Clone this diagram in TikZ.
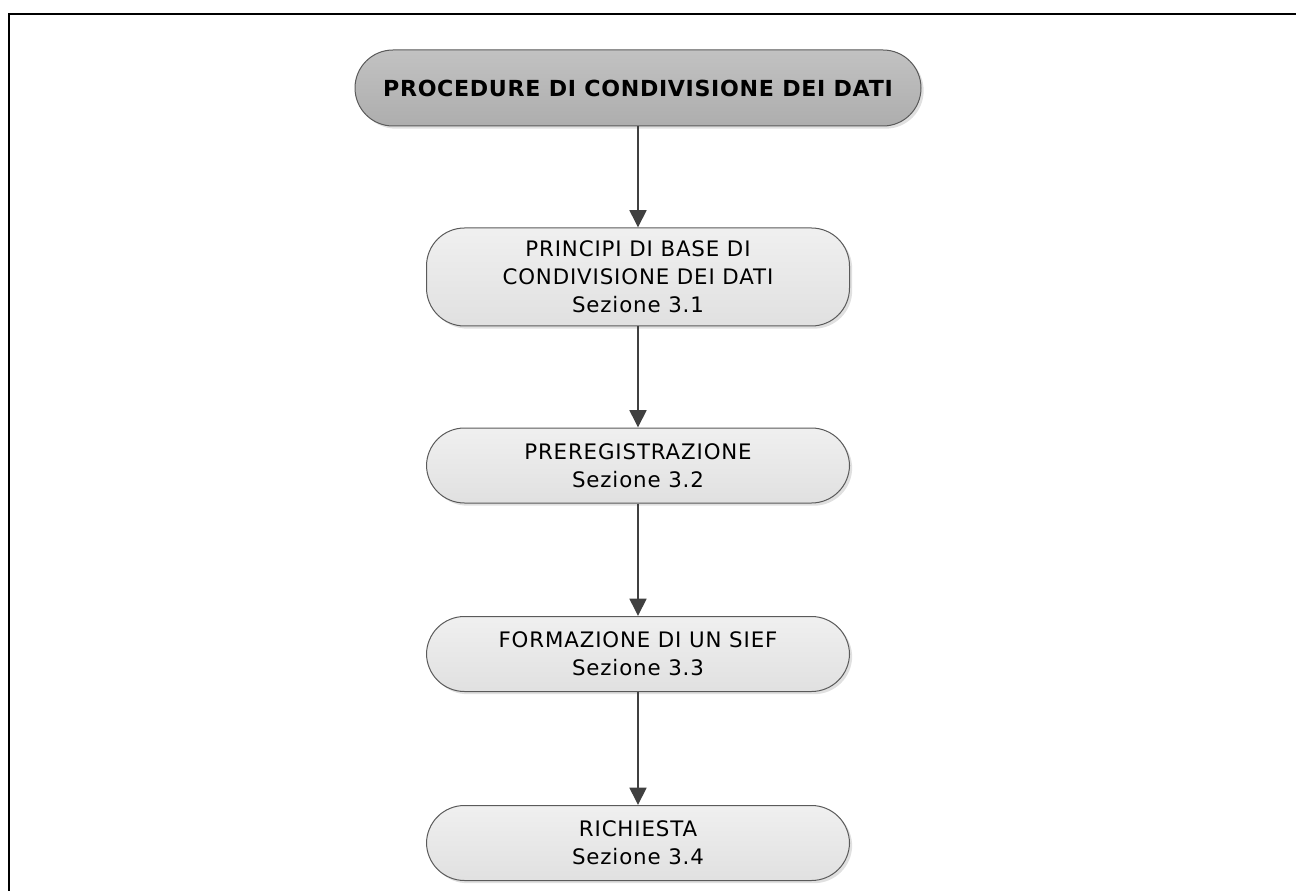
\documentclass[tikz,border=0pt]{standalone}
\usepackage{fontspec}
\setmainfont{DejaVu Sans}[LetterSpace=4]
\newfontfamily\titlefont{DejaVu Sans}[LetterSpace=3]
\usetikzlibrary{arrows.meta,shadows}
\definecolor{edgegray}{HTML}{5A5A5A}
\definecolor{arrowgray}{HTML}{404040}
\tikzset{
  stepbox/.style={draw=edgegray, line width=0.75pt, rounded corners=28.5pt,
    minimum width=317.25pt, minimum height=56.25pt, align=center,
    top color=white!94!black, bottom color=white!88!black,
    drop shadow={shadow xshift=2pt, shadow yshift=-2pt, fill=black, opacity=0.12},
    font={\fontsize{16}{21}\selectfont}, inner sep=0pt},
  titlebox/.style={stepbox, minimum width=424.5pt, minimum height=57pt,
    top color=white!76!black, bottom color=white!68!black,
    font={\titlefont\bfseries\fontsize{16.6}{21}\selectfont}},
  flow/.style={draw=arrowgray, line width=2pt, -{Triangle[length=13pt,width=12.5pt]}}
}
\begin{document}
\begin{tikzpicture}[x=0.75pt,y=-0.75pt]
\useasboundingbox (0,0) rectangle (1296,891);
\begin{scope}
\clip (0,0) rectangle (1296,891);
\draw[line width=1.6pt] (9,1000) -- (9,14) -- (1400,14);
\end{scope}
\node[titlebox] (t) at (638,88) {PROCEDURE DI CONDIVISIONE DEI DATI};
\node[stepbox, minimum height=73.5pt] (a) at (638,277) {PRINCIPI DI BASE DI\\CONDIVISIONE DEI DATI\\Sezione 3.1};
\node[stepbox] (b) at (638,465.5) {PREREGISTRAZIONE\\Sezione 3.2};
\node[stepbox] (c) at (638,654) {FORMAZIONE DI UN SIEF\\Sezione 3.3};
\node[stepbox] (d) at (638,843) {RICHIESTA\\Sezione 3.4};
\draw[flow] (t.south) -- (a.north);
\draw[flow] (a.south) -- (b.north);
\draw[flow] (b.south) -- (c.north);
\draw[flow] (c.south) -- (d.north);
\end{tikzpicture}
\end{document}
